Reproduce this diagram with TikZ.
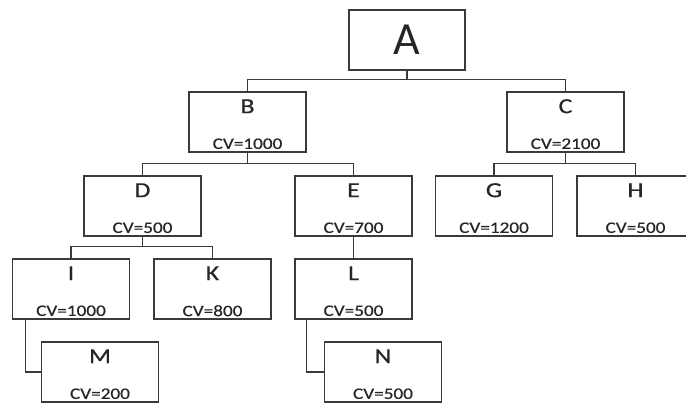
\documentclass[tikz,border=0pt]{standalone}
\usepackage{fontspec}
\setmainfont{Carlito}
\newfontfamily\widefont[FakeStretch=1.2, FakeBold=0.6]{Carlito}
\usepackage{tikz}
\usetikzlibrary{calc}
\usepackage{xcolor}
\definecolor{inkgray}{HTML}{3A3A3A}

\begin{document}
\begin{tikzpicture}[x=1pt, y=-1pt,
    cvbox/.style={draw=inkgray, line width=1.5pt, rectangle, minimum width=117pt, minimum height=60pt, inner sep=0pt},
    letter/.style={inner sep=0pt, text=black!85, font=\widefont\fontsize{21.5}{21.5}\selectfont},
    cvtext/.style={inner sep=0pt, text=black!85, font=\widefont\fontsize{16}{16}\selectfont},
    wire/.style={draw=inkgray, line width=1.2pt}]
  \useasboundingbox (0,0) rectangle (686,402);
  \clip (0,0) rectangle (686,402);

  % root
  \node[cvbox, minimum width=116pt] (A) at (407,40) {};
  \node[inner sep=0pt, text=black!85, font=\fontsize{46}{46}\selectfont] (A-l) at (A) {A};

  % the other boxes: name / x / y / CV
  \foreach \n/\x/\y/\v in {B/247.5/122/1000, C/565.5/122/2100,
      D/142.5/206/500, E/353.5/206/700, G/494/206/1200, H/635.5/206/500,
      I/71/289/1000, K/212.5/289/800, L/353.5/289/500,
      M/100/372/200, N/383/372/500} {
    \node[cvbox] (\n) at (\x,\y) {};
    \node[letter] (\n-l) at ([yshift=-15pt]\n.north) {\n};
    \node[cvtext] (\n-v) at ([yshift=9pt]\n.south) {CV=\v};
  }

  % connectors
  \draw[wire] (A.south) |- ([yshift=12pt]B.north) -- (B.north);
  \draw[wire] (A.south) |- ([yshift=12pt]C.north) -- (C.north);
  \draw[wire] (B.south) |- ([yshift=12pt]D.north) -- (D.north);
  \draw[wire] (B.south) |- ([yshift=12pt]E.north) -- (E.north);
  \draw[wire] (C.south) |- ([yshift=12pt]G.north) -- (G.north);
  \draw[wire] (C.south) |- ([yshift=12pt]H.north) -- (H.north);
  \draw[wire] (D.south) |- ([yshift=11.5pt]I.north) -- (I.north);
  \draw[wire] (D.south) |- ([yshift=11.5pt]K.north) -- (K.north);
  \draw[wire] (E.south) -- (L.north);
  \draw[wire] ([xshift=14pt]I.south west) |- (M.west);
  \draw[wire] ([xshift=12pt]L.south west) |- (N.west);
\end{tikzpicture}
\end{document}
